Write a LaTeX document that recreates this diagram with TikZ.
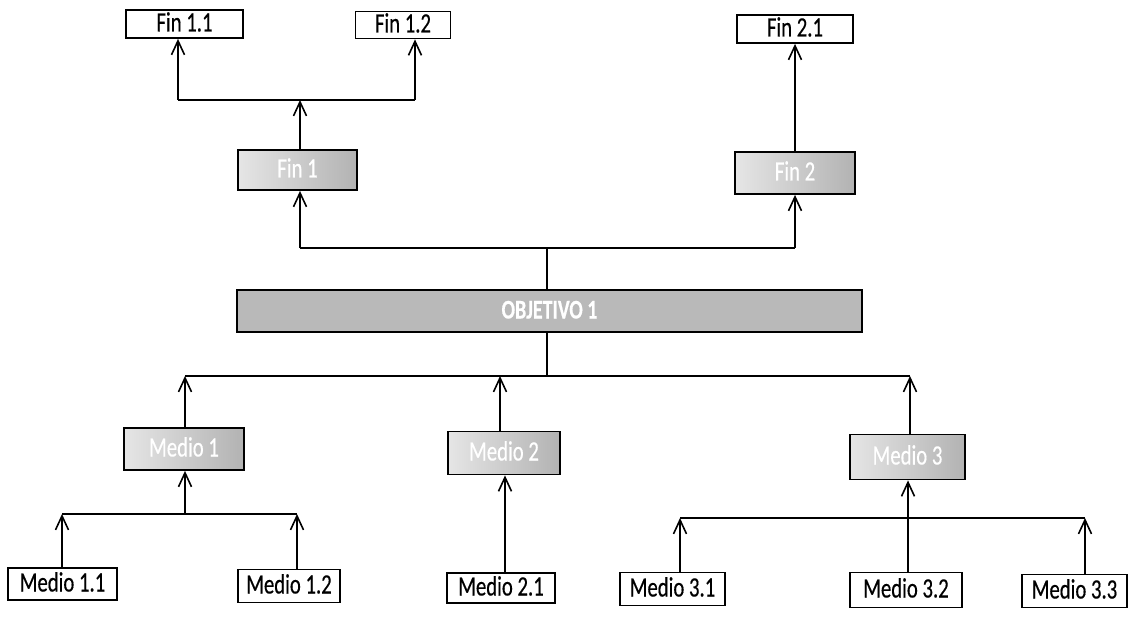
\documentclass[tikz,border=0pt]{standalone}
\usepackage{fontspec}
\newfontfamily\cond[FakeStretch=0.74, FakeBold=0.4]{Carlito}
\usetikzlibrary{arrows.meta}
\tikzset{
  whitebox/.style={draw=black, line width=1.8pt, fill=white, inner sep=0pt,
    text height=18pt, text depth=3pt, font=\cond\fontsize{28}{28}\selectfont},
  graybox/.style={draw=black, line width=1.8pt, inner sep=0pt, left color=gray!20, right color=gray!60,
    text height=18pt, text depth=3pt, text=white, font=\cond\fontsize{28}{28}\selectfont},
  objbox/.style={draw=black, line width=1.8pt, inner sep=0pt, fill=gray!55,
    text height=18pt, text depth=3pt, text=white, font=\cond\bfseries\fontsize{27}{27}\selectfont},
  conn/.style={line width=1.8pt, black},
  arr/.style={conn, -{Straight Barb[length=14pt, width=13pt, line width=1.6pt]}}
}
\begin{document}
\begin{tikzpicture}[x=1pt, y=-1pt]
\path[use as bounding box] (0,0) rectangle (1131,620);
% top level
\node[whitebox, minimum width=117pt, minimum height=28pt] (F11) at (184.5,24) {Fin 1.1};
\node[whitebox, minimum width=95pt, minimum height=27pt] (F12) at (403,25) {Fin 1.2};
\node[whitebox, minimum width=116pt, minimum height=28pt] (F21) at (795,29) {Fin 2.1};
\node[graybox, minimum width=119pt, minimum height=40pt] (F1) at (297.5,170) {Fin 1};
\node[graybox, minimum width=120pt, minimum height=42pt] (F2) at (795,173) {Fin 2};
\node[objbox, minimum width=625pt, minimum height=42pt] (OBJ) at (549.5,311) {OBJETIVO 1};
\node[graybox, minimum width=120pt, minimum height=42pt] (M1) at (184,449) {Medio 1};
\node[graybox, minimum width=112pt, minimum height=43pt] (M2) at (504,453) {Medio 2};
\node[graybox, minimum width=115pt, minimum height=45pt] (M3) at (907.5,457) {Medio 3};
\node[whitebox, minimum width=109pt, minimum height=32pt] (M11) at (62.5,584) {Medio 1.1};
\node[whitebox, minimum width=102pt, minimum height=33pt] (M12) at (289,586) {Medio 1.2};
\node[whitebox, minimum width=108pt, minimum height=30pt] (M21) at (501,588) {Medio 2.1};
\node[whitebox, minimum width=105pt, minimum height=33pt] (M31) at (672.5,589) {Medio 3.1};
\node[whitebox, minimum width=112pt, minimum height=35pt] (M32) at (906,590) {Medio 3.2};
\node[whitebox, minimum width=105pt, minimum height=33pt] (M33) at (1074.5,591) {Medio 3.3};
% junction coordinates
\coordinate (h1L) at (178,100);
\coordinate (h1R) at (415,100);
\coordinate (h1M) at (300,100);
\coordinate (h2L) at (300,248);
\coordinate (h2R) at (795,248);
\coordinate (o1) at (547,248);
\coordinate (o2) at (547,376);
\coordinate (h3L) at (185,376);
\coordinate (h3M) at (500,376);
\coordinate (h3R) at (910,376);
\coordinate (h4L) at (62,514);
\coordinate (h4M) at (185,514);
\coordinate (h4R) at (297,514);
\coordinate (v2) at (505,500);
\coordinate (h5L) at (680,518);
\coordinate (h5M) at (908,518);
\coordinate (h5R) at (1085,518);
% Fin 1 group
\draw[conn] (h1L) -- (h1R);
\draw[arr] (h1L) -- (h1L |- F11.south);
\draw[arr] (h1R) -- (h1R |- F12.south);
\draw[arr] (F1.north -| h1M) -- (h1M);
% Fin 2
\draw[arr] (F2.north) -- (F21.south);
% objective up
\draw[conn] (OBJ.north -| o1) -- (o1);
\draw[conn] (h2L) -- (h2R);
\draw[arr] (h2L) -- (h2L |- F1.south);
\draw[arr] (h2R) -- (h2R |- F2.south);
% objective down
\draw[conn] (OBJ.south -| o2) -- (o2);
\draw[conn] (h3L) -- (h3R);
\draw[arr] (M1.north -| h3L) -- (h3L);
\draw[arr] (M2.north -| h3M) -- (h3M);
\draw[arr] (M3.north -| h3R) -- (h3R);
% Medio 1 group
\draw[conn] (h4L) -- (h4R);
\draw[arr] (M11.north -| h4L) -- (h4L);
\draw[arr] (M12.north -| h4R) -- (h4R);
\draw[arr] (h4M) -- (h4M |- M1.south);
% Medio 2
\draw[arr] (M21.north -| v2) -- (M2.south -| v2);
% Medio 3 group
\draw[conn] (h5L) -- (h5R);
\draw[arr] (M31.north -| h5L) -- (h5L);
\draw[arr] (M33.north -| h5R) -- (h5R);
\draw[conn] (M32.north -| h5M) -- (h5M);
\draw[arr] (h5M) -- (h5M |- M3.south);
\end{tikzpicture}
\end{document}
